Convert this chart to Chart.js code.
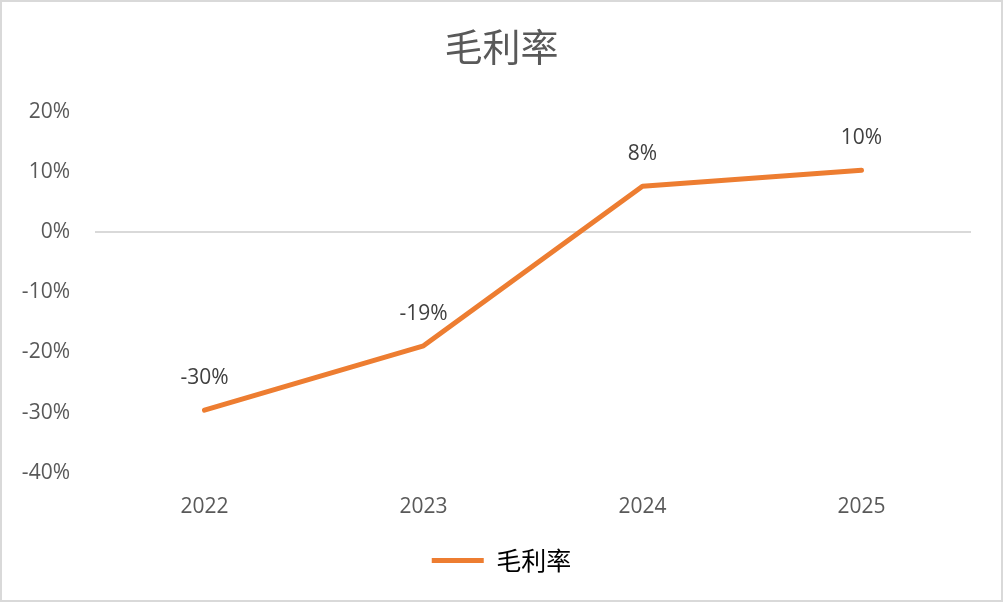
<!DOCTYPE html>
<html>
<head>
<meta charset="utf-8">
<script src="https://cdn.jsdelivr.net/npm/chart.js@4"></script>
<style>
  html, body { margin: 0; padding: 0; background: #fff; }
  #wrap { width: 1003px; height: 602px; box-sizing: border-box; border: 2px solid #d9d9d9; }
  canvas { display: block; }
</style>
</head>
<body>
<div id="wrap"><canvas id="myChart" width="999" height="598"></canvas></div>
<script>
const categories = ['2022', '2023', '2024', '2025'];
const grossMargin = [-29.6, -18.9, 7.6, 10.25];
const marginLabels = ['-30%', '-19%', '8%', '10%'];
const seriesName = '毛利率';

const FONT = "'Open Sans', 'Noto Sans CJK SC', sans-serif";
const CJK = "'Noto Sans CJK SC', sans-serif";

// draws the value labels above each point
const pointLabels = {
    id: 'pointLabels',
    afterDatasetsDraw(chart) {
        const ctx = chart.ctx;
        const meta = chart.getDatasetMeta(0);
        ctx.save();
        ctx.font = '21px ' + FONT;
        ctx.fillStyle = '#404040';
        ctx.textAlign = 'center';
        ctx.textBaseline = 'middle';
        meta.data.forEach((pt, i) => {
            ctx.fillText(marginLabels[i], pt.x, pt.y - 32);
        });
        ctx.restore();
    }
};

const ctx = document.getElementById('myChart').getContext('2d');

const myChart = new Chart(ctx, {
    type: 'line',
    data: {
        labels: categories,
        datasets: [{
            label: seriesName,
            data: grossMargin,
            borderColor: '#ED7D31',
            backgroundColor: '#ED7D31',
            borderWidth: 5,
            borderCapStyle: 'round',
            borderJoinStyle: 'round',
            pointRadius: 0,
            tension: 0
        }]
    },
    options: {
        responsive: false,
        animation: false,
        layout: { padding: { left: 0, right: 0, top: 0, bottom: 17 } },
        plugins: {
            title: {
                display: true,
                text: seriesName,
                color: '#595959',
                font: { family: CJK, size: 38, weight: 'normal' },
                padding: { top: 22, bottom: 42 }
            },
            legend: {
                position: 'bottom',
                labels: {
                    color: '#595959',
                    font: { family: CJK, size: 25 },
                    boxWidth: 52,
                    boxHeight: 5,
                    padding: 6,
                    generateLabels: (chart) => [{
                        text: seriesName,
                        fillStyle: '#ED7D31',
                        strokeStyle: '#ED7D31',
                        lineWidth: 0,
                        datasetIndex: 0
                    }]
                }
            },
            tooltip: { enabled: false }
        },
        scales: {
            x: {
                offset: true,
                grid: { display: false, drawTicks: false },
                border: { display: false },
                ticks: { color: '#595959', font: { family: FONT, size: 21 }, padding: 22 }
            },
            y: {
                min: -40,
                max: 20,
                afterFit: (scale) => { scale.width = 93; },
                grid: {
                    drawTicks: false,
                    color: (c) => c.tick && c.tick.value === 0 ? '#d9d9d9' : 'rgba(0,0,0,0)',
                    lineWidth: 2
                },
                border: { display: false },
                ticks: {
                    stepSize: 10,
                    color: '#595959',
                    font: { family: FONT, size: 21 },
                    padding: 25,
                    callback: (v) => v + '%'
                }
            },
            // empty right-hand axis, only keeps the right margin
            yRight: {
                position: 'right',
                display: true,
                afterFit: (scale) => { scale.width = 30; },
                grid: { display: false, drawTicks: false },
                border: { display: false },
                ticks: { display: false }
            }
        }
    },
    plugins: [pointLabels]
});
</script>
</body>
</html>
